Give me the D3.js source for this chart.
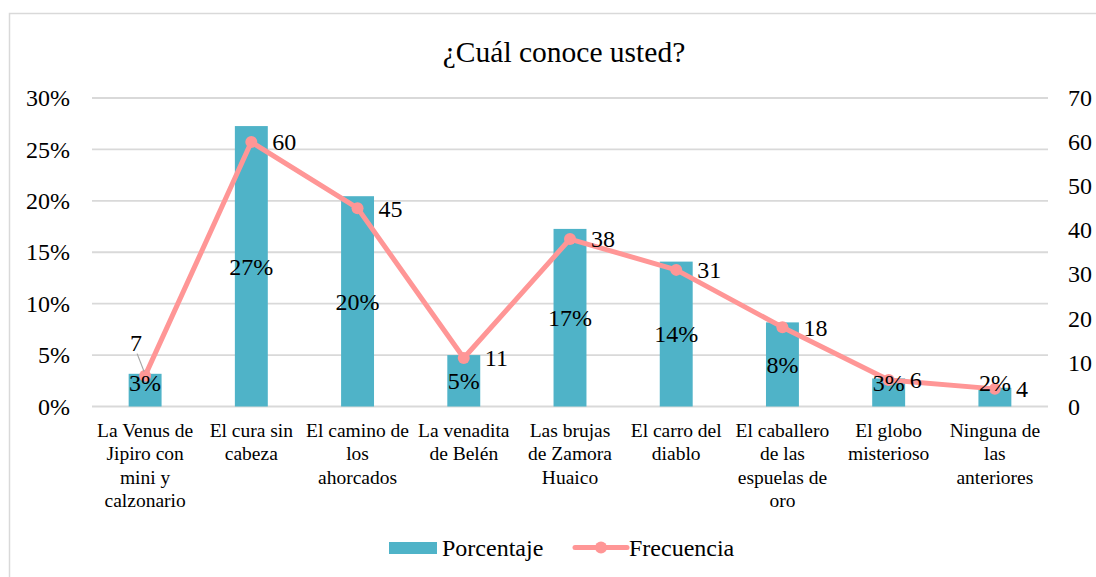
<!DOCTYPE html>
<html><head><meta charset="utf-8">
<script src="https://cdn.jsdelivr.net/npm/d3@7"></script>
<style>
html,body{margin:0;padding:0;background:#fff;overflow:hidden;}
svg{display:block;}
svg text{font-family:"Liberation Serif","DejaVu Serif",serif !important;fill:#000;}
</style></head>
<body><svg id="chart" width="1096" height="577"></svg>
<script>
const categories = ["La Venus de Jipiro con mini y calzonario","El cura sin cabeza","El camino de los ahorcados","La venadita de Belén","Las brujas de Zamora Huaico","El carro del diablo","El caballero de las espuelas de oro","El globo misterioso","Ninguna de las anteriores"];
const categoryLines = [["La Venus de","Jipiro con","mini y","calzonario"],["El cura sin","cabeza"],["El camino de","los","ahorcados"],["La venadita","de Belén"],["Las brujas","de Zamora","Huaico"],["El carro del","diablo"],["El caballero","de las","espuelas de","oro"],["El globo","misterioso"],["Ninguna de","las","anteriores"]];
const frecuencia = [7,60,45,11,38,31,18,6,4];
const porcentaje = [0.0318,0.2727,0.2045,0.05,0.1727,0.1409,0.0818,0.0273,0.0182];
const porcentajeLabels = ["3%","27%","20%","5%","17%","14%","8%","3%","2%"];
const leftTicks = [0,0.05,0.10,0.15,0.20,0.25,0.30];
const rightTicks = [0,10,20,30,40,50,60,70];
const title = "¿Cuál conoce usted?";
const seriesNames = ["Porcentaje","Frecuencia"];

const barColor = "#4FB3C8", lineColor = "#FF9696", gridColor = "#D9D9D9";
const FONT = '"Liberation Serif","DejaVu Serif",serif';
const svg = d3.select("#chart");
const L = 92, R = 1048, T = 98, B = 406.5;

// chart frame (left and top edges visible)
svg.append("path").attr("d","M9.5,577 L9.5,13.5 L1096,13.5")
  .attr("fill","none").attr("stroke",gridColor).attr("stroke-width",1.5);

const x = d3.scaleBand().domain(categories).range([L,R]).paddingInner(0.69).paddingOuter(0.345);
const yL = d3.scaleLinear().domain([0,0.30]).range([B,T]);
const yR = d3.scaleLinear().domain([0,70]).range([B,T]);

// gridlines
svg.append("g").selectAll("line").data(leftTicks).join("line")
  .attr("x1",L).attr("x2",R).attr("y1",d=>yL(d)).attr("y2",d=>yL(d))
  .attr("stroke",gridColor).attr("stroke-width",1.8);

// left axis
const axL = d3.axisLeft(yL).tickValues(leftTicks).tickFormat(d3.format(".0%")).tickSize(0).tickPadding(22);
const gL = svg.append("g").attr("transform",`translate(${L},0)`).call(axL).attr("font-family",FONT);
gL.select(".domain").remove();
gL.selectAll("text").attr("font-size",24).style("font-family",FONT).attr("fill","#000");

// right axis
const axR = d3.axisRight(yR).tickValues(rightTicks).tickSize(0).tickPadding(20);
const gR = svg.append("g").attr("transform",`translate(${R},0)`).call(axR).attr("font-family",FONT);
gR.select(".domain").remove();
gR.selectAll("text").attr("font-size",24).style("font-family",FONT).attr("fill","#000");

// bars
svg.append("g").selectAll("rect").data(categories).join("rect")
  .attr("x",d=>x(d)).attr("width",x.bandwidth())
  .attr("y",(d,i)=>yL(porcentaje[i])).attr("height",(d,i)=>B-yL(porcentaje[i]))
  .attr("fill",barColor);

// line
const cx = d=>x(d)+x.bandwidth()/2;
const line = d3.line().x((d,i)=>cx(categories[i])).y(d=>yR(d));
svg.append("path").datum(frecuencia).attr("d",line).attr("fill","none")
  .attr("stroke",lineColor).attr("stroke-width",5).attr("stroke-linejoin","round");
svg.append("g").selectAll("circle").data(frecuencia).join("circle")
  .attr("cx",(d,i)=>cx(categories[i])).attr("cy",d=>yR(d)).attr("r",6).attr("fill",lineColor);

// percentage labels
svg.append("g").selectAll("text").data(porcentajeLabels).join("text")
  .attr("x",(d,i)=>cx(categories[i]))
  .attr("y",(d,i)=>Math.min((yL(porcentaje[i])+B)/2, B-24))
  .attr("dy","0.35em").attr("text-anchor","middle").attr("font-size",24).style("font-family",FONT).text(d=>d);

// frequency labels
svg.append("g").selectAll("text").data(frecuencia).join("text")
  .attr("x",(d,i)=> i===0 ? cx(categories[i])-9 : cx(categories[i])+21)
  .attr("y",(d,i)=> i===0 ? yR(d)-33 : yR(d))
  .attr("dy","0.35em").attr("text-anchor",(d,i)=>i===0?"middle":"start")
  .attr("font-size",24).style("font-family",FONT).text(d=>d);
// leader line for first label
svg.append("line").attr("x1",cx(categories[0])-8).attr("y1",yR(frecuencia[0])-22)
  .attr("x2",cx(categories[0])-1).attr("y2",yR(frecuencia[0])-4)
  .attr("stroke","#A6A6A6").attr("stroke-width",1.2);

// category labels
const gc = svg.append("g");
categories.forEach((c,i)=>{
  const t = gc.append("text").attr("x",cx(c)).attr("y",437).attr("text-anchor","middle").attr("font-size",19.5).style("font-family",FONT);
  categoryLines[i].forEach((ln,j)=>{
    t.append("tspan").attr("x",cx(c)).attr("y",437+j*23.3).text(ln);
  });
});

// title
svg.append("text").attr("x",564).attr("y",62).attr("text-anchor","middle").attr("font-size",29.5).style("font-family",FONT).text(title);

// legend
svg.append("rect").attr("x",389).attr("y",542).attr("width",48).attr("height",12).attr("fill",barColor);
svg.append("text").attr("x",442).attr("y",548).attr("dy","0.35em").attr("font-size",24).style("font-family",FONT).text(seriesNames[0]);
svg.append("line").attr("x1",575).attr("x2",627).attr("y1",547.5).attr("y2",547.5).attr("stroke",lineColor).attr("stroke-width",5).attr("stroke-linecap","round");
svg.append("circle").attr("cx",601).attr("cy",547.5).attr("r",6).attr("fill",lineColor);
svg.append("text").attr("x",629).attr("y",548).attr("dy","0.35em").attr("font-size",24).style("font-family",FONT).text(seriesNames[1]);
</script></body></html>
